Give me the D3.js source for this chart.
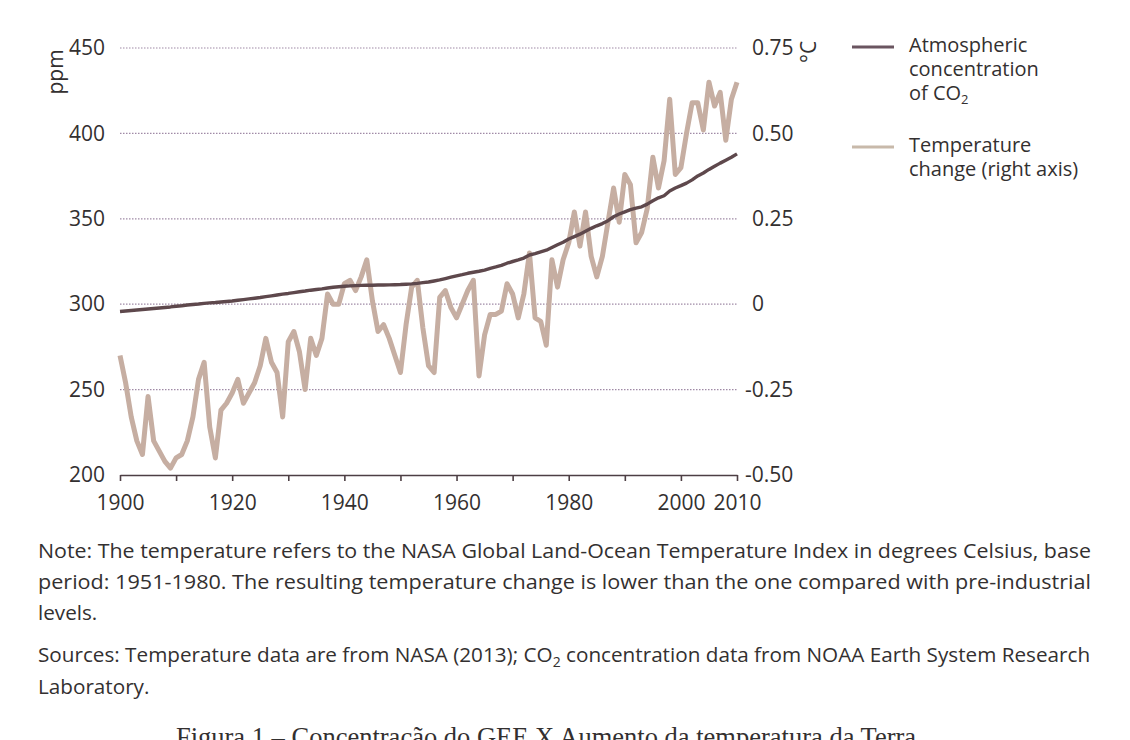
<!DOCTYPE html>
<html>
<head>
<meta charset="utf-8">
<script src="https://cdn.jsdelivr.net/npm/d3@7"></script>
<style>
  html, body { margin: 0; padding: 0; background: #ffffff; }
  svg { display: block; }
  text { fill: #333030; }
</style>
</head>
<body>
<svg id="chart" width="1130" height="740" font-family="'Open Sans', 'Noto Sans', sans-serif"></svg>
<script>
// Years shown on the x axis (annual series 1900–2010)
const years = d3.range(1900, 2011);

// Atmospheric CO2 concentration, ppm
const co2 = [
  295.7, 296.0, 296.3, 296.6, 296.9, 297.2, 297.5, 297.8, 298.1, 298.4,
  298.8, 299.1, 299.5, 299.8, 300.1, 300.5, 300.8, 301.0, 301.3, 301.6,
  301.9, 302.3, 302.7, 303.1, 303.5, 303.9, 304.4, 304.9, 305.4, 305.9,
  306.3, 306.8, 307.3, 307.7, 308.2, 308.6, 309.0, 309.5, 309.9, 310.2,
  310.5, 310.7, 310.9, 311.0, 311.1, 311.1, 311.2, 311.2, 311.3, 311.4,
  311.5, 311.7, 311.9, 312.2, 312.6, 313.0, 313.6, 314.2, 315.0, 315.8,
  316.6, 317.3, 318.1, 318.7, 319.3, 320.0, 321.0, 321.8, 322.7, 324.0,
  325.0, 325.9, 327.0, 328.8, 329.6, 330.6, 331.6, 333.2, 334.8, 336.3,
  338.2, 339.6, 341.0, 342.7, 344.4, 345.9, 347.2, 348.9, 351.2, 352.8,
  354.1, 355.4, 356.3, 357.0, 358.6, 360.6, 362.3, 363.5, 366.3, 368.0,
  369.4, 370.9, 372.8, 375.1, 376.8, 378.9, 380.8, 382.6, 384.3, 386.0,
  388.0
];

// Global land-ocean temperature change, °C (base period 1951–1980)
const tempChange = [
  -0.15, -0.23, -0.33, -0.40, -0.44, -0.27, -0.40, -0.43, -0.46, -0.48,
  -0.45, -0.44, -0.40, -0.33, -0.22, -0.17, -0.36, -0.45, -0.31, -0.29,
  -0.26, -0.22, -0.29, -0.26, -0.23, -0.18, -0.10, -0.17, -0.20, -0.33,
  -0.11, -0.08, -0.14, -0.25, -0.10, -0.15, -0.10, 0.03, 0.00, 0.00,
  0.06, 0.07, 0.04, 0.08, 0.13, 0.01, -0.08, -0.06, -0.10, -0.15,
  -0.20, -0.06, 0.05, 0.07, -0.07, -0.18, -0.20, 0.02, 0.04, -0.01,
  -0.04, 0.00, 0.04, 0.07, -0.21, -0.09, -0.03, -0.03, -0.02, 0.06,
  0.03, -0.04, 0.03, 0.15, -0.04, -0.05, -0.12, 0.13, 0.05, 0.13,
  0.18, 0.27, 0.17, 0.27, 0.14, 0.08, 0.14, 0.24, 0.34, 0.24,
  0.38, 0.35, 0.18, 0.21, 0.28, 0.43, 0.34, 0.42, 0.60, 0.38,
  0.40, 0.50, 0.59, 0.59, 0.51, 0.65, 0.58, 0.62, 0.48, 0.60,
  0.65
];

// Axis ticks and labels
const ppmTicks = [200, 250, 300, 350, 400, 450];
const ppmGrid = [250, 300, 350, 400, 450];
const tempTicks = [-0.5, -0.25, 0, 0.25, 0.5, 0.75];
const tempTickLabels = ["-0.50", "-0.25", "0", "0.25", "0.50", "0.75"];
const yearTicks = d3.range(1900, 2011, 10);
const yearLabels = [1900, 1920, 1940, 1960, 1980, 2000, 2010];

const svg = d3.select("#chart");

const x = d3.scaleLinear().domain([1900, 2010]).range([120, 737]);
const yL = d3.scaleLinear().domain([200, 450]).range([475, 48]);
const yR = d3.scaleLinear().domain([-0.5, 0.75]).range([475, 48]);

const sans = "'Open Sans', 'Noto Sans', sans-serif";

// dotted horizontal gridlines
svg.append("g")
  .selectAll("line")
  .data(ppmGrid)
  .join("line")
  .attr("x1", x(1900)).attr("x2", x(2010))
  .attr("y1", d => yL(d)).attr("y2", d => yL(d))
  .attr("stroke", "#a08aa6")
  .attr("stroke-width", 1.2)
  .attr("stroke-dasharray", "1.5,1.5");

// bottom axis
const xAxis = d3.axisBottom(x)
  .tickValues(yearTicks)
  .tickSize(6)
  .tickSizeOuter(0)
  .tickPadding(14)
  .tickFormat(d => yearLabels.includes(d) ? String(d) : "");
const gx = svg.append("g")
  .attr("transform", `translate(0,${yL(200)})`)
  .call(xAxis);
gx.select(".domain").attr("stroke", "#4d3f44").attr("stroke-width", 1.6);
gx.selectAll(".tick line").attr("stroke", "#4d3f44").attr("stroke-width", 1.6);
gx.selectAll(".tick text")
  .attr("font-size", 21)
  .attr("font-family", sans)
  .attr("fill", "#333030");

// left axis labels (ppm)
const yAxisL = d3.axisLeft(yL).tickValues(ppmTicks).tickSize(0).tickPadding(15);
const gl = svg.append("g").attr("transform", `translate(${x(1900)},0)`).call(yAxisL);
gl.select(".domain").remove();
gl.selectAll(".tick text")
  .attr("font-size", 21)
  .attr("font-family", sans)
  .attr("fill", "#333030");

// right axis labels (°C)
const yAxisR = d3.axisRight(yR)
  .tickValues(tempTicks)
  .tickSize(0)
  .tickPadding(15)
  .tickFormat((d, i) => tempTickLabels[i]);
const gr = svg.append("g").attr("transform", `translate(${x(2010)},0)`).call(yAxisR);
gr.select(".domain").remove();
gr.selectAll(".tick text")
  .attr("font-size", 21)
  .attr("font-family", sans)
  .attr("fill", "#333030")
  .attr("dx", d => d < 0 ? -7 : 0);

// axis titles
svg.append("text")
  .attr("transform", "translate(55,72) rotate(-90)")
  .attr("text-anchor", "middle")
  .attr("dominant-baseline", "central")
  .attr("font-size", 21)
  .text("ppm");
svg.append("text")
  .attr("transform", "translate(808,52) rotate(-90)")
  .attr("text-anchor", "middle")
  .attr("dominant-baseline", "central")
  .attr("font-size", 21)
  .text("°C");

// temperature change line (right axis)
const tempLine = d3.line()
  .x((d, i) => x(years[i]))
  .y(d => yR(d));
svg.append("path")
  .datum(tempChange)
  .attr("fill", "none")
  .attr("stroke", "#c6aea2")
  .attr("stroke-width", 5)
  .attr("stroke-linejoin", "round")
  .attr("d", tempLine);

// CO2 concentration line (left axis)
const co2Line = d3.line()
  .x((d, i) => x(years[i]))
  .y(d => yL(d));
svg.append("path")
  .datum(co2)
  .attr("fill", "none")
  .attr("stroke", "#5e484c")
  .attr("stroke-width", 3.4)
  .attr("stroke-linejoin", "round")
  .attr("d", co2Line);

// legend
const legend = svg.append("g");
legend.append("line")
  .attr("x1", 852).attr("x2", 894).attr("y1", 47).attr("y2", 47)
  .attr("stroke", "#6a5560").attr("stroke-width", 3);
legend.append("line")
  .attr("x1", 852).attr("x2", 894).attr("y1", 147).attr("y2", 147)
  .attr("stroke", "#c8b9aa").attr("stroke-width", 3);

const legendFont = 20;
const legendRows = [
  { y: 52, text: "Atmospheric" },
  { y: 76, text: "concentration" },
  { y: 152, text: "Temperature" },
  { y: 176, text: "change (right axis)" }
];
legend.selectAll("text.row")
  .data(legendRows)
  .join("text")
  .attr("class", "row")
  .attr("x", 909).attr("y", d => d.y)
  .attr("font-size", legendFont)
  .text(d => d.text);
const co2Label = legend.append("text").attr("x", 909).attr("y", 100).attr("font-size", legendFont);
co2Label.append("tspan").text("of CO");
co2Label.append("tspan").attr("font-size", 13).attr("dy", 4).text("2");

// notes below the chart
const notes = svg.append("g").attr("font-size", 20.7);
notes.append("text").attr("x", 38).attr("y", 558)
  .attr("textLength", 1053).attr("lengthAdjust", "spacingAndGlyphs")
  .text("Note: The temperature refers to the NASA Global Land-Ocean Temperature Index in degrees Celsius, base");
notes.append("text").attr("x", 38).attr("y", 589)
  .attr("textLength", 1053).attr("lengthAdjust", "spacingAndGlyphs")
  .text("period: 1951-1980. The resulting temperature change is lower than the one compared with pre-industrial");
notes.append("text").attr("x", 38).attr("y", 620).text("levels.");
const src = notes.append("text").attr("x", 38).attr("y", 662);
src.append("tspan").text("Sources: Temperature data are from NASA (2013); CO");
src.append("tspan").attr("font-size", 14).attr("dy", 5).text("2");
src.append("tspan").attr("dy", -5).text(" concentration data from NOAA Earth System Research");
notes.append("text").attr("x", 38).attr("y", 694).text("Laboratory.");

// figure caption
svg.append("text")
  .attr("x", 546).attr("y", 746)
  .attr("text-anchor", "middle")
  .attr("font-family", "'Liberation Serif', 'Times New Roman', serif")
  .attr("font-size", 26.5)
  .attr("fill", "#111")
  .text("Figura 1 – Concentração do GEE X Aumento da temperatura da Terra");
</script>
</body>
</html>
